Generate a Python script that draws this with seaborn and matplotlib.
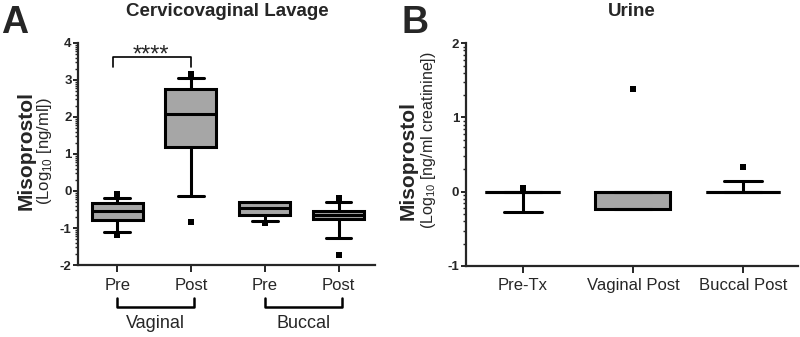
import numpy as np
import pandas as pd
import matplotlib
matplotlib.use('Agg')
import matplotlib.pyplot as plt
import seaborn as sns

sns.set_style('ticks')
plt.rcParams['font.family'] = ['Liberation Sans', 'DejaVu Sans']
plt.rcParams['mathtext.fontset'] = 'custom'
plt.rcParams['mathtext.rm'] = 'Liberation Sans'
plt.rcParams['axes.unicode_minus'] = False

# Panel A - cervicovaginal lavage, log10 ng/ml
cvl_groups = ['Vag Pre', 'Vag Post', 'Buc Pre', 'Buc Post']
cvl_tick_labels = ['Pre', 'Post', 'Pre', 'Post']
cvl_low = [-1.12, -0.13, -0.80, -1.26]
cvl_q1 = [-0.78, 1.20, -0.65, -0.76]
cvl_med = [-0.54, 2.07, -0.47, -0.65]
cvl_q3 = [-0.32, 2.75, -0.29, -0.53]
cvl_high = [-0.19, 3.05, -0.29, -0.29]
cvl_out_group = ['Vag Pre', 'Vag Pre', 'Vag Post', 'Vag Post', 'Buc Pre', 'Buc Post', 'Buc Post']
cvl_out_value = [-0.08, -1.19, 3.16, -0.83, -0.86, -0.20, -1.73]

# Panel B - urine, log10 ng/ml creatinine
urine_groups = ['Pre-Tx', 'Vaginal Post', 'Buccal Post']
urine_low = [-0.27, -0.23, 0.0]
urine_q1 = [0.0, -0.23, 0.0]
urine_med = [0.0, 0.0, 0.0]
urine_q3 = [0.0, 0.0, 0.0]
urine_high = [0.0, 0.0, 0.14]
urine_out_group = ['Pre-Tx', 'Vaginal Post', 'Buccal Post']
urine_out_value = [0.05, 1.38, 0.33]

box_grey = '#a6a6a6'


def five_number_df(groups, lo, q1, med, q3, hi):
    # 5 points per group reproduce the box stats exactly with whis=(0, 100)
    rows = []
    for i, g in enumerate(groups):
        for v in (lo[i], q1[i], med[i], q3[i], hi[i]):
            rows.append({'group': g, 'value': v})
    return pd.DataFrame(rows)


def draw_panel(ax, groups, stats_df, out_group, out_value, width):
    sns.boxplot(data=stats_df, x='group', y='value', order=groups, whis=(0, 100),
                showfliers=False, width=width, color=box_grey, linecolor='black',
                linewidth=2.2, ax=ax)
    sns.stripplot(x=out_group, y=out_value, order=groups, jitter=False, marker='s',
                  color='black', size=5, linewidth=0, ax=ax)
    sns.despine(ax=ax)
    for side in ['left', 'bottom']:
        ax.spines[side].set_linewidth(1.6)
    ax.tick_params(axis='y', which='major', length=3.5, width=1.4, pad=1, labelsize=9.5)
    ax.tick_params(axis='y', which='minor', length=2.5, width=1.0, left=True)
    ax.tick_params(axis='x', length=5, width=1.4, pad=4, labelsize=12)
    ax.set_xlabel('')
    ax.set_ylabel('')
    for lbl in ax.get_yticklabels():
        lbl.set_fontweight('bold')


def log_minor(lo, hi):
    return [n + np.log10(k) for n in range(lo, hi) for k in range(2, 10)]


fig = plt.figure(figsize=(8, 3.37), dpi=100)

# ---- A ----
ax1 = fig.add_axes([0.0975, 0.2136, 0.371, 0.659])
cvl_df = five_number_df(cvl_groups, cvl_low, cvl_q1, cvl_med, cvl_q3, cvl_high)
draw_panel(ax1, cvl_groups, cvl_df, cvl_out_group, cvl_out_value, 0.69)
ax1.set_ylim(-2, 4)
ax1.set_yticks(range(-2, 5))
ax1.set_yticks(log_minor(-2, 4), minor=True)
ax1.set_xlim(-0.53, 3.49)
ax1.set_xticks(range(4))
ax1.set_xticklabels(cvl_tick_labels)

# significance bar
ax1.plot([-0.06, -0.06, 1.0, 1.0], [3.35, 3.62, 3.62, 3.35], color='black', lw=1.2, clip_on=False)
ax1.text(0.46, 3.49, '****', ha='center', va='baseline', fontsize=17)

# route brackets under the axis
trans = matplotlib.transforms.blended_transform_factory(ax1.transData, ax1.transAxes)
for (x0, x1), name in zip([(0.0, 1.04), (2.0, 3.04)], ['Vaginal', 'Buccal']):
    ax1.plot([x0, x0, x1, x1], [-0.149, -0.189, -0.189, -0.149], color='black', lw=1.8,
             transform=trans, clip_on=False)
    ax1.text((x0 + x1) / 2, -0.262, name, ha='center', va='center', fontsize=13, transform=trans)

# ---- B ----
ax2 = fig.add_axes([0.582, 0.2107, 0.4155, 0.661])
urine_df = five_number_df(urine_groups, urine_low, urine_q1, urine_med, urine_q3, urine_high)
draw_panel(ax2, urine_groups, urine_df, urine_out_group, urine_out_value, 0.68)
ax2.set_ylim(-1, 2)
ax2.set_yticks(range(-1, 3))
ax2.set_yticks(log_minor(-1, 2), minor=True)
ax2.set_xlim(-0.52, 2.5)

# titles, panel letters, y labels
fig.text(227 / 800, 1 - 12 / 337, 'Cervicovaginal Lavage', ha='center', va='center',
         fontsize=13.5, fontweight='bold')
fig.text(632 / 800, 1 - 12 / 337, 'Urine', ha='center', va='center',
         fontsize=13.5, fontweight='bold')
fig.text(1 / 800, 1 - 33 / 337, 'A', ha='left', va='baseline', fontsize=27, fontweight='bold')
fig.text(402 / 800, 1 - 33 / 337, 'B', ha='left', va='baseline', fontsize=27, fontweight='bold')

fig.text(26 / 800, 1 - 150 / 337, 'Misoprostol', rotation=90, ha='center', va='center',
         fontsize=15, fontweight='bold')
fig.text(44 / 800, 1 - 151 / 337, r'(Log$_{\mathrm{10}}$ [ng/ml])', rotation=90,
         ha='center', va='center', fontsize=12)
fig.text(408 / 800, 1 - 160 / 337, 'Misoprostol', rotation=90, ha='center', va='center',
         fontsize=15, fontweight='bold')
fig.text(429 / 800, 1 - 140 / 337, r'(Log$_{\mathrm{10}}$ [ng/ml creatinine])', rotation=90,
         ha='center', va='center', fontsize=11.5)

fig.savefig('out.png', dpi=100)
